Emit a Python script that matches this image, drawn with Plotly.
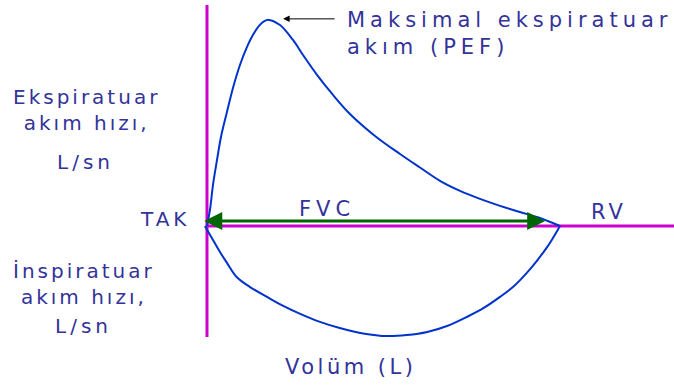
import plotly.graph_objects as go

# Flow-volume loop (volume in L, flow in L/s)
exp_volume = [0.0, 0.042, 0.085, 0.142, 0.198, 0.283, 0.368, 0.467, 0.567, 0.652, 0.737, 0.807,
              0.878, 1.034, 1.218, 1.360, 1.558, 1.785, 2.025, 2.380, 2.734, 3.017, 3.300,
              3.584, 3.867, 4.150, 4.433, 4.717, 5.0]
exp_flow = [0.0, 0.78, 2.0, 3.22, 4.34, 5.56, 6.73, 7.85, 8.73, 9.32, 9.76, 9.98,
            10.05, 9.80, 9.07, 8.34, 7.37, 6.39, 5.46, 4.39, 3.51, 2.85, 2.20,
            1.71, 1.32, 0.98, 0.68, 0.39, 0.0]
insp_volume = [5.0, 4.90, 4.82, 4.67, 4.53, 4.35, 4.15, 3.92, 3.68, 3.40, 3.12, 2.83, 2.55,
               2.21, 1.88, 1.60, 1.32, 1.08, 0.85, 0.61, 0.42, 0.283, 0.184, 0.085, -0.03]
insp_flow = [0.0, -0.59, -1.02, -1.71, -2.29, -2.93, -3.46, -4.0, -4.44, -4.88, -5.17, -5.32, -5.37,
             -5.24, -4.98, -4.68, -4.29, -3.90, -3.46, -2.98, -2.49, -1.80, -1.27, -0.68, 0.0]

fvc_volume = 5.0
pef_volume = 0.878
pef_flow = 10.05

labels_left = ["Ekspiratuar<br>akım hızı,", "L/sn", "TAK", "İnspiratuar<br>akım hızı,", "L/sn"]
label_pef = "Maksimal ekspiratuar<br>akım (PEF)"
label_fvc = "FVC"
label_rv = "RV"
label_x = "Volüm (L)"

W, H = 674, 385
X0, X1 = -2.932, 6.615
Y0, Y1 = -7.756, 11.02

def px(x):
    return x / W

def py(y):
    return 1 - y / H

TXT = "#333399"
FONT = "DejaVu Sans"
MAG = "#cc00cc"
BLUE = "#0033cc"

fig = go.Figure()

# Axes lines (magenta)
fig.add_trace(go.Scatter(x=[0, 0], y=[10.78, -5.41], mode="lines",
                         line=dict(color=MAG, width=3), hoverinfo="skip"))
fig.add_trace(go.Scatter(x=[0, X1], y=[0, 0], mode="lines",
                         line=dict(color=MAG, width=3), hoverinfo="skip"))

# Loop: expiratory and inspiratory limbs
fig.add_trace(go.Scatter(x=exp_volume, y=exp_flow, mode="lines",
                         line=dict(color=BLUE, width=2, shape="spline", smoothing=1.0),
                         hoverinfo="skip"))
fig.add_trace(go.Scatter(x=insp_volume, y=insp_flow, mode="lines",
                         line=dict(color=BLUE, width=2, shape="spline", smoothing=1.0),
                         hoverinfo="skip"))

# FVC double arrow
fig.add_annotation(x=fvc_volume - 0.21, y=0.24, ax=-0.06, ay=0.24,
                   xref="x", yref="y", axref="x", ayref="y", text="",
                   showarrow=True, arrowhead=2, arrowside="end+start",
                   arrowsize=1.2, arrowwidth=3, arrowcolor="#006600")

# PEF arrow
fig.add_annotation(x=pef_volume + 0.2, y=pef_flow + 0.05, ax=pef_volume + 0.95, ay=pef_flow + 0.05,
                   xref="x", yref="y", axref="x", ayref="y", text="",
                   showarrow=True, arrowhead=2, arrowsize=1.3, arrowwidth=1, arrowcolor="#000000")

def spaced(text, ls):
    return "<br>".join(f'<span style="letter-spacing:{ls}px">{t}</span>' for t in text.split("<br>"))

def label(text, x, y, size=20, ls=3, xanchor="center", align="center"):
    fig.add_annotation(x=px(x), y=py(y), xref="paper", yref="paper", text=spaced(text, ls),
                       showarrow=False, xanchor=xanchor, yanchor="middle", align=align,
                       font=dict(family=FONT, size=size, color=TXT))

label(label_pef, 345, 33, size=21, ls=5, xanchor="left", align="left")
label(labels_left[0], 86, 110, size=20, ls=3)
label(labels_left[1], 85, 162, size=20, ls=4)
label(labels_left[2], 165, 219, size=20, ls=4)
label(labels_left[3], 84, 284, size=20, ls=3)
label(labels_left[4], 83, 326, size=20, ls=4)
label(label_fvc, 327, 209, size=21, ls=5)
label(label_rv, 609, 212, size=21, ls=4)
label(label_x, 350, 367, size=21, ls=3.5)

fig.update_layout(width=W, height=H, autosize=False, margin=dict(l=0, r=0, t=0, b=0),
                  paper_bgcolor="white", plot_bgcolor="white", showlegend=False,
                  xaxis=dict(range=[X0, X1], visible=False, fixedrange=True),
                  yaxis=dict(range=[Y0, Y1], visible=False, fixedrange=True))

fig.write_html("out.html", config={"displayModeBar": False},
               post_script="document.body.style.margin='0';document.body.style.overflow='hidden';")
